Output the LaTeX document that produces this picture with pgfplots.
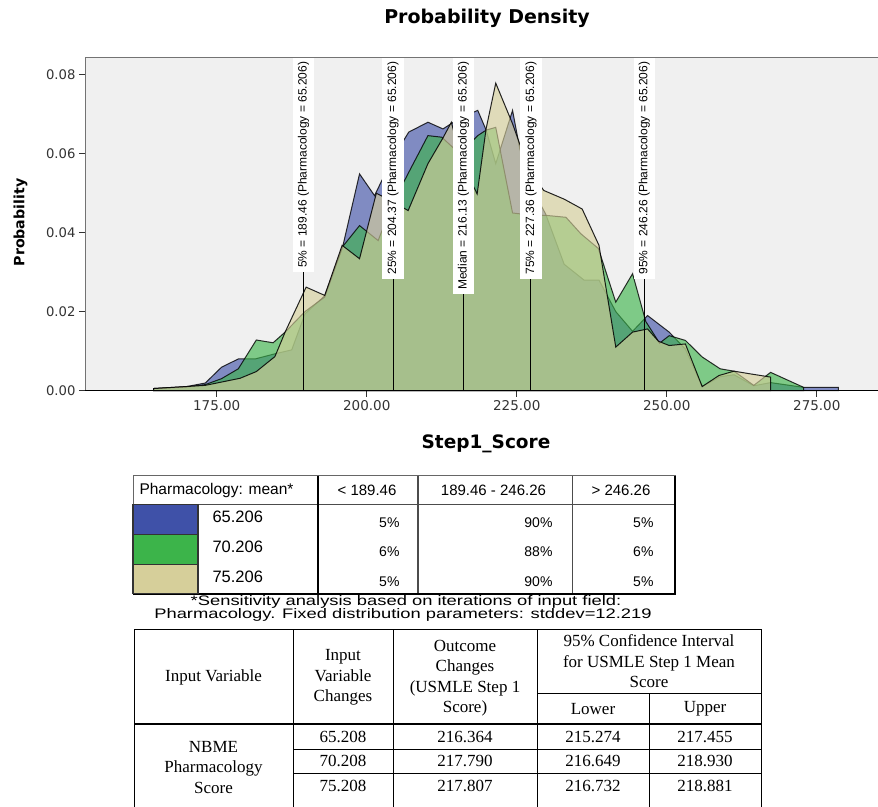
\documentclass[border=0pt]{standalone}
\usepackage{fontspec}
\setmainfont{Liberation Sans}
\newfontfamily\dejavu{DejaVu Sans}
\newfontfamily\seriff{Liberation Serif}
\usepackage{pgfplots}
\pgfplotsset{compat=1.18}
\definecolor{sblue}{RGB}{63,81,168}
\definecolor{sgreen}{RGB}{60,180,74}
\definecolor{stan}{RGB}{214,207,154}
\definecolor{bgray}{RGB}{240,240,240}
\newcommand\fsz[1]{\fontsize{#1bp}{#1bp}\selectfont}
\begin{document}
\begin{tikzpicture}
\useasboundingbox (0bp,0bp) rectangle (878bp,-807bp);
\begin{axis}[
  at={(85bp,-390.5bp)}, anchor=south west,
  scale only axis, width=793bp, height=333bp,
  xmin=153.05, xmax=285.2, ymin=0, ymax=0.0844,
  clip=false,
  axis background/.style={fill=bgray},
  axis line style={draw=none},
  xtick={175,200,225,250,275}, ytick={0,0.02,0.04,0.06,0.08},
  tick pos=left, tick align=outside, major tick length=6bp,
  tick style={black!80, line width=0.8bp},
  scaled y ticks=false, scaled x ticks=false,
  /pgf/number format/assume math mode=true,
  xticklabel style={font=\dejavu\fsz{13.5}, text=black!80, /pgf/number format/.cd, fixed, fixed zerofill, precision=2},
  yticklabel style={font=\dejavu\fsz{13.2}, text=black!80, /pgf/number format/.cd, fixed, fixed zerofill, precision=2},
]
% Pharmacology = 65.206
\addplot[fill=sblue, fill opacity=0.63, draw=black, draw opacity=0.8, line width=1bp] coordinates {
(164.5,0) (164.5,0.0005) (170.0,0.0010) (173.1,0.0019) (175.8,0.0059) (178.6,0.0080) (181.4,0.0080) (184.7,0.0093) (187.5,0.0103) (189.7,0.0194) (193.0,0.0240) (196.0,0.0365) (198.8,0.0549) (201.3,0.0494) (204.2,0.0585) (207.0,0.0655) (210.2,0.0680) (212.7,0.0663) (215.5,0.0690) (218.5,0.0710) (219.9,0.0660) (221.5,0.0575) (224.3,0.0710) (225.5,0.0613) (227.2,0.0520) (229.8,0.0448) (232.9,0.0320) (236.2,0.0280) (238.7,0.0280) (241.5,0.0200) (244.3,0.0150) (246.8,0.0190) (250.4,0.0148) (253.1,0.0105) (255.9,0.0010) (258.9,0.0035) (261.2,0.0040) (264.5,0.0012) (267.3,0.0020) (272.8,0.0008) (278.6,0.0008) (278.6,0)
} -- cycle;
% Pharmacology = 70.206
\addplot[fill=sgreen, fill opacity=0.63, draw=black, draw opacity=0.8, line width=1bp] coordinates {
(164.5,0) (164.5,0.0005) (170.0,0.0009) (173.1,0.0015) (175.8,0.0030) (178.6,0.0055) (181.6,0.0128) (184.4,0.0121) (186.4,0.0148) (189.7,0.0200) (193.0,0.0237) (196.0,0.0365) (198.8,0.0418) (201.9,0.0380) (204.2,0.0470) (207.0,0.0553) (210.2,0.0646) (212.5,0.0642) (215.5,0.0600) (218.5,0.0646) (219.9,0.0660) (221.5,0.0667) (224.3,0.0450) (227.0,0.0445) (229.8,0.0444) (233.2,0.0439) (235.7,0.0397) (238.6,0.0360) (241.5,0.0224) (244.3,0.0296) (246.5,0.0175) (248.8,0.0120) (250.4,0.0139) (253.1,0.0127) (255.9,0.0085) (258.9,0.0055) (261.2,0.0049) (264.5,0.0013) (267.3,0.0046) (272.8,0.0008) (272.8,0)
} -- cycle;
% Pharmacology = 75.206
\addplot[fill=stan, fill opacity=0.63, draw=black, draw opacity=0.85, line width=1bp] coordinates {
(164.5,0) (164.5,0.0005) (173.1,0.0013) (178.9,0.0031) (181.6,0.0048) (184.7,0.0086) (186.4,0.0148) (189.9,0.0262) (193.0,0.0241) (195.9,0.0368) (198.8,0.0334) (201.6,0.0500) (204.2,0.0480) (206.9,0.0456) (210.2,0.0575) (212.7,0.0640) (214.1,0.0680) (215.8,0.0580) (218.4,0.0498) (219.9,0.0664) (221.5,0.0779) (224.3,0.0676) (227.0,0.0560) (229.5,0.0507) (232.9,0.0485) (235.9,0.0460) (238.7,0.0368) (241.5,0.0110) (244.3,0.0148) (246.8,0.0156) (248.6,0.0125) (250.4,0.0114) (253.1,0.0118) (255.9,0.0010) (258.7,0.0038) (261.2,0.0049) (264.0,0.0042) (267.3,0.0034) (267.3,0)
} -- cycle;
% percentile lines
\draw[black, line width=0.9bp] (axis cs:189.46,0) -- (axis cs:189.46,0.0844);
\draw[black, line width=0.9bp] (axis cs:204.37,0) -- (axis cs:204.37,0.0844);
\draw[black, line width=0.9bp] (axis cs:216.13,0) -- (axis cs:216.13,0.0844);
\draw[black, line width=0.9bp] (axis cs:227.36,0) -- (axis cs:227.36,0.0844);
\draw[black, line width=0.9bp] (axis cs:246.26,0) -- (axis cs:246.26,0.0844);
\tikzset{qlab/.style={rotate=90, anchor=east, fill=white, inner xsep=4bp, inner ysep=5bp, font=\fsz{12}}}
\node[qlab] at (axis cs:189.46,0.0844) {5\% = 189.46 (Pharmacology = 65.206)};
\node[qlab] at (axis cs:204.37,0.0844) {25\% = 204.37 (Pharmacology = 65.206)};
\node[qlab] at (axis cs:216.13,0.0844) {Median = 216.13 (Pharmacology = 65.206)};
\node[qlab] at (axis cs:227.36,0.0844) {75\% = 227.36 (Pharmacology = 65.206)};
\node[qlab] at (axis cs:246.26,0.0844) {95\% = 246.26 (Pharmacology = 65.206)};
% frame
\draw[black!55, line width=1bp] (rel axis cs:0,0) -- (rel axis cs:0,1) -- (rel axis cs:1,1);
\draw[black, line width=1bp] (rel axis cs:0,0) -- (rel axis cs:1,0);
\end{axis}
\begin{scope}[x=1bp,y=1bp]
% titles
\node[font=\dejavu\bfseries\fsz{19}] at (487,-18) {Probability Density};
\node[font=\dejavu\bfseries\fsz{18.5}, anchor=base] at (486,-448) {Step1\_Score};
\node[font=\dejavu\bfseries\fsz{14.2}, rotate=90] at (20.5,-222.5) {Probability};
% legend table
\fill[white] (133,-475.5) rectangle (675,-593.5);
\draw[black!60, line width=1bp] (133,-475.5) rectangle (675,-593.5);
\draw[black!70, line width=1.1bp] (133,-504.5) -- (675,-504.5);
\draw[black!70, line width=1.2bp] (418,-475.5) -- (418,-593.5);
\draw[black!70, line width=1.2bp] (572.6,-475.5) -- (572.6,-593.5);
\draw[black, line width=2.2bp] (318,-475.5) -- (318,-593.5);
\draw[black, line width=2bp] (675,-475.5) -- (675,-593.5) -- (133,-593.5);
\filldraw[fill=sblue, draw=black!80, line width=1.2bp] (133,-504.5) rectangle (198,-534.7);
\filldraw[fill=sgreen, draw=black!80, line width=1.2bp] (133,-534.7) rectangle (198,-564.5);
\filldraw[fill=stan, draw=black!80, line width=1.2bp] (133,-564.5) rectangle (198,-593.5);
\node[anchor=west, font=\fsz{15.5}] at (136,-490) {Pharmacology: mean*};
\node[font=\fsz{15}] at (367,-490) {< 189.46};
\node[font=\fsz{15}] at (493.5,-490) {189.46 - 246.26};
\node[font=\fsz{15}] at (621,-490) {> 246.26};
\node[anchor=west, font=\fsz{16.5}] at (209,-517) {65.206};
\node[anchor=west, font=\fsz{16.5}] at (209,-547) {70.206};
\node[anchor=west, font=\fsz{16.5}] at (209,-577) {75.206};
\tikzset{pval/.style={anchor=east, font=\fsz{14}}}
\node[pval] at (403,-522.7) {5\%};
\node[pval] at (556,-522.7) {90\%};
\node[pval] at (657,-522.7) {5\%};
\node[pval] at (403,-552) {6\%};
\node[pval] at (556,-552) {88\%};
\node[pval] at (657,-552) {6\%};
\node[pval] at (403,-581.5) {5\%};
\node[pval] at (556,-581.5) {90\%};
\node[pval] at (657,-581.5) {5\%};
% footnote
\node[font=\fsz{13.8}, xscale=1.33, inner sep=0pt] at (406,-601.5) {*Sensitivity analysis based on iterations of input field:};
\node[font=\fsz{13.8}, xscale=1.33, inner sep=0pt] at (403,-615) {Pharmacology. Fixed distribution parameters: stddev=12.219};
% bottom table
\draw[black, line width=1bp] (134,-629) -- (761,-629);
\foreach \xx in {134,293,393,537,761} {\draw[black, line width=1bp] (\xx,-629) -- (\xx,-807);}
\draw[black, line width=1bp] (649,-693) -- (649,-807);
\draw[black, line width=1bp] (537,-693) -- (761,-693);
\draw[black, line width=1.8bp] (134,-724) -- (761,-724);
\draw[black, line width=1bp] (293,-749) -- (761,-749);
\draw[black, line width=1bp] (293,-773) -- (761,-773);
\tikzset{tb/.style={font=\seriff\fontsize{17bp}{20.5bp}\selectfont, align=center, inner sep=0pt}}
\node[tb] at (213.5,-677) {Input Variable};
\node[tb] at (343,-677.5) {Input\\Variable\\Changes};
\node[tb] at (465,-678) {Outcome\\Changes\\(USMLE Step 1\\Score)};
\node[tb] at (649,-661.5) {95\% Confidence Interval\\for USMLE Step 1 Mean\\Score};
\node[tb] at (593,-709) {Lower};
\node[tb] at (705,-709) {Upper};
\node[tb] at (213.5,-767.5) {NBME\\Pharmacology\\Score};
\node[tb] at (343,-737) {65.208};
\node[tb] at (343,-761) {70.208};
\node[tb] at (343,-786) {75.208};
\node[tb] at (465,-737) {216.364};
\node[tb] at (465,-761) {217.790};
\node[tb] at (465,-786) {217.807};
\node[tb] at (593,-737) {215.274};
\node[tb] at (593,-761) {216.649};
\node[tb] at (593,-786) {216.732};
\node[tb] at (705,-737) {217.455};
\node[tb] at (705,-761) {218.930};
\node[tb] at (705,-786) {218.881};
\end{scope}
\end{tikzpicture}
\end{document}
